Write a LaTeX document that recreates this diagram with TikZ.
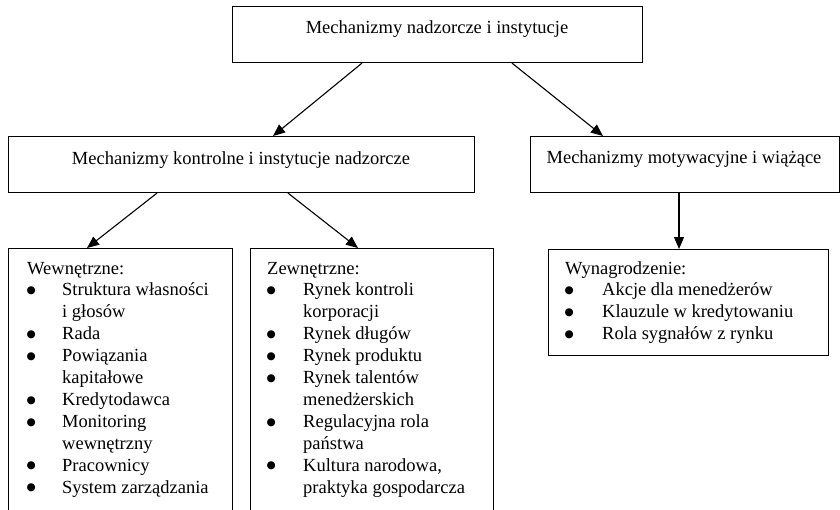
\documentclass[tikz,border=0pt]{standalone}
\usepackage{fontspec}
\setmainfont{Liberation Serif}
\newfontfamily\dejavu{DejaVu Sans}
\usetikzlibrary{arrows.meta,calc}
\newcommand\bul{\hspace*{-0.5pt}\raisebox{2.2pt}{\dejavu\fontsize{10.5}{10.5}\selectfont ●}}
\begin{document}
\begin{tikzpicture}[x=1pt,y=-1pt,
  box/.style={draw,line width=1.1pt,rectangle,inner sep=0pt,anchor=north west},
  txt/.style={inner sep=0pt,font=\fontsize{18.5}{21.9}\selectfont},
  arr/.style={line width=1.1pt,-{Triangle[length=12pt,width=10pt]}}]
\useasboundingbox (0,0) rectangle (840,509);
\clip (0,0) rectangle (840,509);
% boxes
\node[box,minimum width=410pt,minimum height=56pt] (top) at (232,6) {};
\node[box,minimum width=466pt,minimum height=56pt] (lmid) at (8,136) {};
\node[box,minimum width=309pt,minimum height=56pt] (rmid) at (530,136) {};
\node[box,minimum width=224pt,minimum height=290pt] (lbox) at (8,248) {};
\node[box,minimum width=243pt,minimum height=290pt] (mbox) at (250,248) {};
\node[box,minimum width=280pt,minimum height=106pt] (rbox) at (548,249) {};
% titles
\node[txt,anchor=base] (topt) at (437,33) {Mechanizmy nadzorcze i instytucje};
\node[txt,anchor=base] (lmidt) at (241,164) {Mechanizmy kontrolne i instytucje nadzorcze};
\node[txt,anchor=base] (rmidt) at (684,163) {Mechanizmy motywacyjne i wiążące};
% lists
\node[txt,anchor=base west] (llist) at (27,274) {\begin{tabular}[t]{@{}p{35pt}@{}l@{}}
\multicolumn{2}{@{}l@{}}{Wewnętrzne:}\\
\bul & Struktura własności\\
 & i głosów\\
\bul & Rada\\
\bul & Powiązania\\
 & kapitałowe\\
\bul & Kredytodawca\\
\bul & Monitoring\\
 & wewnętrzny\\
\bul & Pracownicy\\
\bul & System zarządzania
\end{tabular}};
\node[txt,anchor=base west] (mlist) at (267,274) {\begin{tabular}[t]{@{}p{36pt}@{}l@{}}
\multicolumn{2}{@{}l@{}}{Zewnętrzne:}\\
\bul & Rynek kontroli\\
 & korporacji\\
\bul & Rynek długów\\
\bul & Rynek produktu\\
\bul & Rynek talentów\\
 & menedżerskich\\
\bul & Regulacyjna rola\\
 & państwa\\
\bul & Kultura narodowa,\\
 & praktyka gospodarcza
\end{tabular}};
\node[txt,anchor=base west] (rlist) at (565,274) {\begin{tabular}[t]{@{}p{37pt}@{}l@{}}
\multicolumn{2}{@{}l@{}}{Wynagrodzenie:}\\
\bul & Akcje dla menedżerów\\
\bul & Klauzule w kredytowaniu\\
\bul & Rola sygnałów z rynku
\end{tabular}};
% arrows
\draw[arr] ([xshift=130pt]top.south west) -- ([xshift=265pt]lmid.north west);
\draw[arr] ([xshift=280pt]top.south west) -- ([xshift=73pt]rmid.north west);
\draw[arr] ([xshift=149pt]lmid.south west) -- ([xshift=79pt]lbox.north west);
\draw[arr] ([xshift=280pt]lmid.south west) -- ([xshift=108pt]mbox.north west);
\draw[arr] ([xshift=149pt]rmid.south west) -- ([xshift=149pt]rmid.south west |- rbox.north);
\end{tikzpicture}
\end{document}
